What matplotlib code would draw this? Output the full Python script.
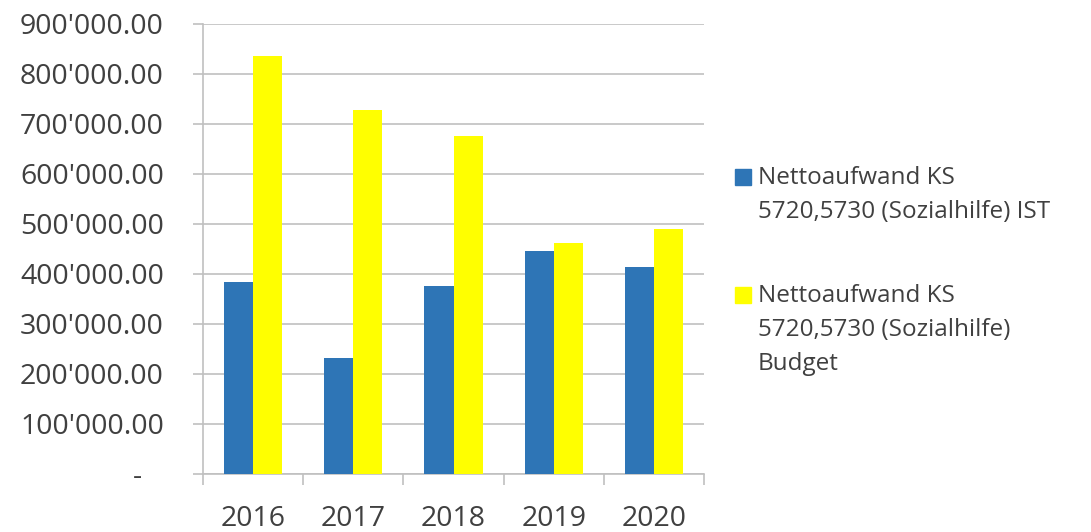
import matplotlib
matplotlib.use("Agg")
import matplotlib.pyplot as plt
from matplotlib.ticker import FuncFormatter, FixedLocator
from matplotlib.patches import Rectangle

years = ["2016", "2017", "2018", "2019", "2020"]
ist_values = [385000, 233000, 377000, 447000, 415000]
budget_values = [836000, 728000, 676000, 463000, 491000]
series_names = [
    "Nettoaufwand KS\n5720,5730 (Sozialhilfe) IST",
    "Nettoaufwand KS\n5720,5730 (Sozialhilfe)\nBudget",
]
y_ticks = [0, 100000, 200000, 300000, 400000, 500000, 600000, 700000, 800000, 900000]

BLUE = "#2E75B6"
YELLOW = "#FFFF00"
GRID = "#C0C0C0"
TEXT = "#404040"
FONT = ["Open Sans", "DejaVu Sans"]

plt.rcParams["font.family"] = FONT

W, H = 1091, 532
fig = plt.figure(figsize=(W / 100, H / 100), dpi=100)
ax = fig.add_axes([203 / W, 1 - 474 / H, (704 - 203) / W, (474 - 24) / H])

x = list(range(len(years)))
w = 0.29
ax.bar([i - w / 2 for i in x], ist_values, width=w, color=BLUE, zorder=3)
ax.bar([i + w / 2 for i in x], budget_values, width=w, color=YELLOW, zorder=3)

ax.set_xlim(-0.5, len(years) - 0.5)
ax.set_ylim(0, 900000)


def fmt(v, _pos):
    if v == 0:
        return "-   "
    return f"{v:,.2f}".replace(",", "'")


ax.yaxis.set_major_locator(FixedLocator(y_ticks))
ax.yaxis.set_major_formatter(FuncFormatter(fmt))
ax.grid(axis="y", color=GRID, linewidth=1.2, zorder=0)
ax.tick_params(axis="y", length=7.2, width=1.2, color=GRID, pad=21,
               labelsize=20.5, labelcolor=TEXT)

ax.set_xticks(x)
ax.set_xticklabels(years)
ax.tick_params(axis="x", which="major", length=0, pad=22.5,
               labelsize=20.5, labelcolor=TEXT)
ax.set_xticks([i - 0.5 for i in range(len(years) + 1)], minor=True)
ax.tick_params(axis="x", which="minor", length=8, width=1.2, color=GRID)

for side in ["top", "right"]:
    ax.spines[side].set_visible(False)
for side in ["left", "bottom"]:
    ax.spines[side].set_color(GRID)
    ax.spines[side].set_linewidth(1.2)

# legend drawn as squares with wrapped text
entries = [(BLUE, series_names[0], 177), (YELLOW, series_names[1], 295)]
for color, label, ymid in entries:
    fig.patches.append(Rectangle((735 / W, 1 - (ymid + 8) / H), 16 / W, 16 / H,
                                 transform=fig.transFigure, color=color))
    fig.text(758 / W, 1 - (ymid - 11) / H, label, fontsize=17.5, color=TEXT,
             va="top", ha="left", linespacing=1.55)

fig.savefig("out.png", dpi=100, facecolor="white")
